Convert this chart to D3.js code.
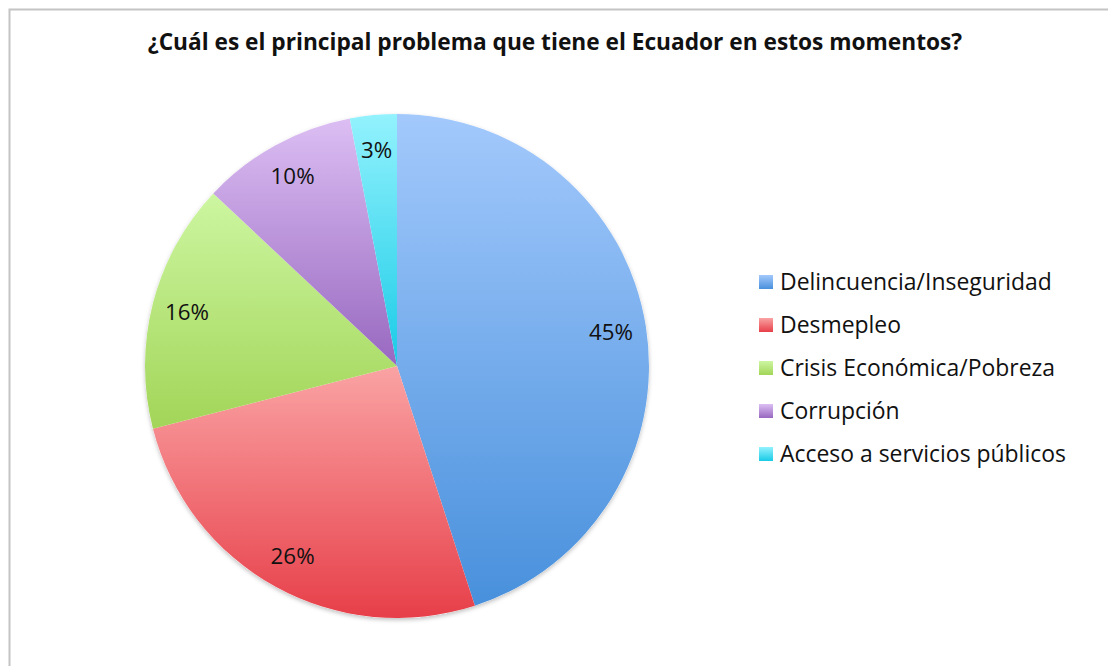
<!DOCTYPE html>
<html><head><meta charset="utf-8">
<script src="https://cdn.jsdelivr.net/npm/d3@7"></script>
<style>body{margin:0;background:#fff}svg{display:block}</style>
</head><body>
<svg id="c" width="1108" height="666"></svg>
<script>
const categories = ["Delincuencia/Inseguridad","Desmepleo","Crisis Económica/Pobreza","Corrupción","Acceso a servicios públicos"];
const values = [45, 26, 16, 10, 3];
const labels = ["45%","26%","16%","10%","3%"];
const topColors = ["#a3c9fc","#faa3a4","#cdf6a1","#dcbef3","#93f2fd"];
const bottomColors = ["#4890dc","#e73f49","#a2d558","#9868c0","#19cbe7"];
const title = "¿Cuál es el principal problema que tiene el Ecuador en estos momentos?";

const svg = d3.select("#c");
const font = "'Open Sans', sans-serif";
function fit(sel, target){
  const n = sel.node(); const fs = +sel.attr("font-size");
  const w = n.getComputedTextLength();
  sel.attr("font-size", fs*target/w);
}
const defs = svg.append("defs");
categories.forEach((c,i)=>{
  const g = defs.append("linearGradient").attr("id","g"+i).attr("x1",0).attr("y1",0).attr("x2",0).attr("y2",1);
  g.append("stop").attr("offset",0).attr("stop-color",topColors[i]);
  g.append("stop").attr("offset",1).attr("stop-color",bottomColors[i]);
});
const sh = defs.append("filter").attr("id","sh").attr("x","-10%").attr("y","-10%").attr("width","120%").attr("height","120%");
sh.append("feDropShadow").attr("dx",0).attr("dy",2).attr("stdDeviation",2).attr("flood-color","#000").attr("flood-opacity",0.25);

// frame
svg.append("path").attr("d","M9.5,666 V9.5 H1108").attr("fill","none").attr("stroke","#c4c4c4").attr("stroke-width",2);

const t = svg.append("text").attr("x",555).attr("y",50).attr("text-anchor","middle")
  .attr("font-family",font).attr("font-weight","bold").attr("font-size",20).attr("fill","#111").text(title);
fit(t, 815);

const cx = 397, cy = 366, r = 252;
const pie = d3.pie().sort(null).value(d=>d)(values);
const arc = d3.arc().innerRadius(0).outerRadius(r);
const labelArc = d3.arc().innerRadius(r*0.86).outerRadius(r*0.86);
const g = svg.append("g").attr("transform",`translate(${cx},${cy})`);
g.append("circle").attr("r",r).attr("fill","#fff").attr("filter","url(#sh)");
g.selectAll("path.s").data(pie).enter().append("path").attr("class","s")
  .attr("d",arc).attr("fill",(d,i)=>`url(#g${i})`);
const lt = g.selectAll("text.l").data(pie).enter().append("text").attr("class","l")
  .attr("transform",d=>`translate(${labelArc.centroid(d)})`)
  .attr("text-anchor","middle").attr("dy","0.35em")
  .attr("font-family",font).attr("font-size",20).attr("fill","#111")
  .text((d,i)=>labels[i]);
const lfs = 20*44/lt.filter((d,i)=>i===0).node().getComputedTextLength();
lt.attr("font-size",lfs);

const leg = svg.append("g").attr("transform","translate(759,282)");
const rows = leg.selectAll("g").data(categories).enter().append("g")
  .attr("transform",(d,i)=>`translate(0,${i*43})`);
rows.append("rect").attr("x",0).attr("y",-7).attr("width",14).attr("height",14).attr("fill",(d,i)=>`url(#g${i})`);
const lg = rows.append("text").attr("x",21).attr("y",0).attr("dy","0.35em")
  .attr("font-family",font).attr("font-size",20).attr("fill","#111").text(d=>d);
const gfs = 20*286/lg.filter((d,i)=>i===4).node().getComputedTextLength();
lg.attr("font-size",gfs);
</script>
</body></html>
